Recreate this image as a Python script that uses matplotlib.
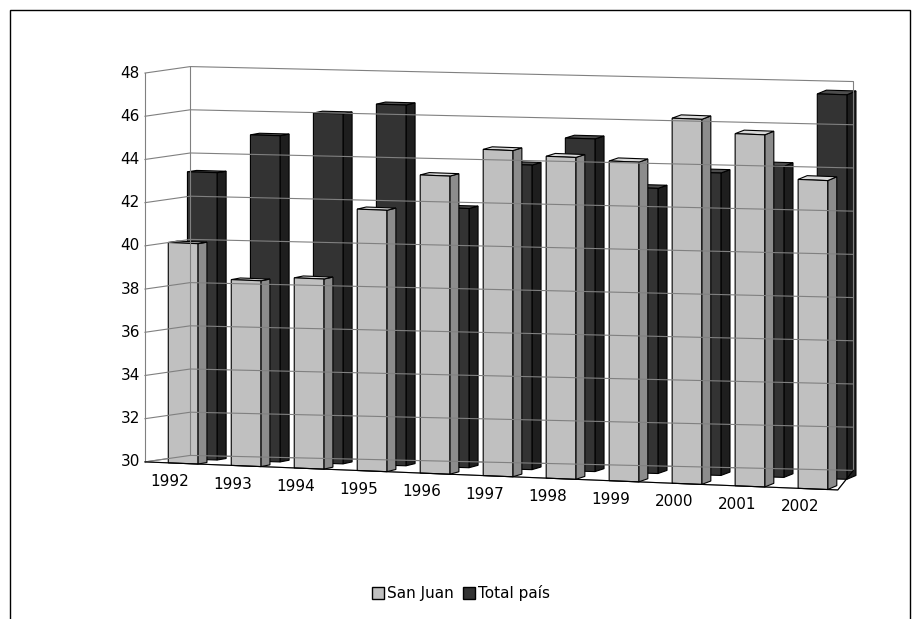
import matplotlib.pyplot as plt
from matplotlib.patches import Polygon, Patch, Rectangle

years = ['1992', '1993', '1994', '1995', '1996', '1997', '1998', '1999', '2000', '2001', '2002']
san_juan = [40.2, 38.6, 38.8, 42.1, 43.8, 45.1, 44.9, 44.8, 46.9, 46.3, 44.3]
total_pais = [43.3, 45.1, 46.2, 46.7, 42.0, 44.1, 45.4, 43.2, 44.0, 44.4, 47.8]
yticks = list(range(30, 49, 2))

A = 0.72   # horizontal shift of depth
B = 0.3    # vertical shift of depth
K = 0.043  # perspective narrowing of the back wall
S0, S1 = 0.118, 0.063  # floor slope front / back


def P(x, y, d, k=0.0):
    s = S0 + (S1 - S0) * d
    return (x * (1 - k * d) + A * d, y + B * d - s * x)


def W(x, y, d):
    return P(x, y, d, K)


fig = plt.figure(figsize=(9.21, 6.19), dpi=100)
fig.patches.append(Rectangle((10 / 921, -0.01), 900 / 921, 1 - 10 / 619 + 0.01,
                             transform=fig.transFigure, fill=False, lw=1, ec='black'))
ax = fig.add_axes([100 / 921, 99 / 619, 780 / 921, 480 / 619])
ax.set_xlim(-0.714, 11.67)
ax.set_ylim(27.31, 49.53)
ax.axis('off')

n = len(years)
# back wall and left wall gridlines
for y in yticks:
    ax.plot(*zip(W(0, y, 0), W(0, y, 1), W(n, y, 1)), color='#808080', lw=0.8)
    xl, yl = W(0, y, 0)
    ax.text(xl - 0.08, yl, str(y), ha='right', va='center', fontsize=11)
ax.plot(*zip(W(n, 30, 1), W(n, 48, 1)), color='#808080', lw=0.8)
ax.plot(*zip(W(0, 30, 0), W(0, 48, 0)), color='#808080', lw=0.8)
ax.plot(*zip(W(0, 48, 1), W(0, 30, 1)), color='#808080', lw=0.8)
# floor
ax.add_patch(Polygon([W(0, 30, 0), W(n, 30, 0), W(n, 30, 1), W(0, 30, 1)],
                     closed=True, fill=False, ec='#808080', lw=0.8))
ax.plot(*zip(W(0, 30, 0), W(n, 30, 0), W(n, 30, 1)), color='black', lw=0.8)


def bar(x0, x1, d0, d1, h, cf, cs, ct):
    front = [P(x0, 30, d0), P(x1, 30, d0), P(x1, h, d0), P(x0, h, d0)]
    side = [P(x1, 30, d0), P(x1, 30, d1), P(x1, h, d1), P(x1, h, d0)]
    top = [P(x0, h, d0), P(x1, h, d0), P(x1, h, d1), P(x0, h, d1)]
    for poly, c in ((side, cs), (top, ct), (front, cf)):
        ax.add_patch(Polygon(poly, closed=True, fc=c, ec='black', lw=0.8))


for i, v in enumerate(total_pais):
    bar(i + 0.3, i + 0.77, 0.52, 0.72, v, '#333333', '#1e1e1e', '#4d4d4d')
for i, v in enumerate(san_juan):
    bar(i + 0.37, i + 0.84, 0.0, 0.2, v, '#c0c0c0', '#8c8c8c', '#d9d9d9')

for i, yr in enumerate(years):
    xl, yl = P(i + 0.5, 30, 0)
    ax.text(xl - 0.1, yl - 0.5, yr, ha='center', va='top', fontsize=11)

handles = [Patch(fc='#c0c0c0', ec='black', label='San Juan'),
           Patch(fc='#333333', ec='black', label='Total país')]
fig.legend(handles=handles, loc='center', bbox_to_anchor=(461 / 921, 1 - 593 / 619),
           ncol=2, frameon=False, fontsize=11, handlelength=0.8, handleheight=0.8,
           columnspacing=0.6, handletextpad=0.2)

fig.savefig('out.png', dpi=100)
